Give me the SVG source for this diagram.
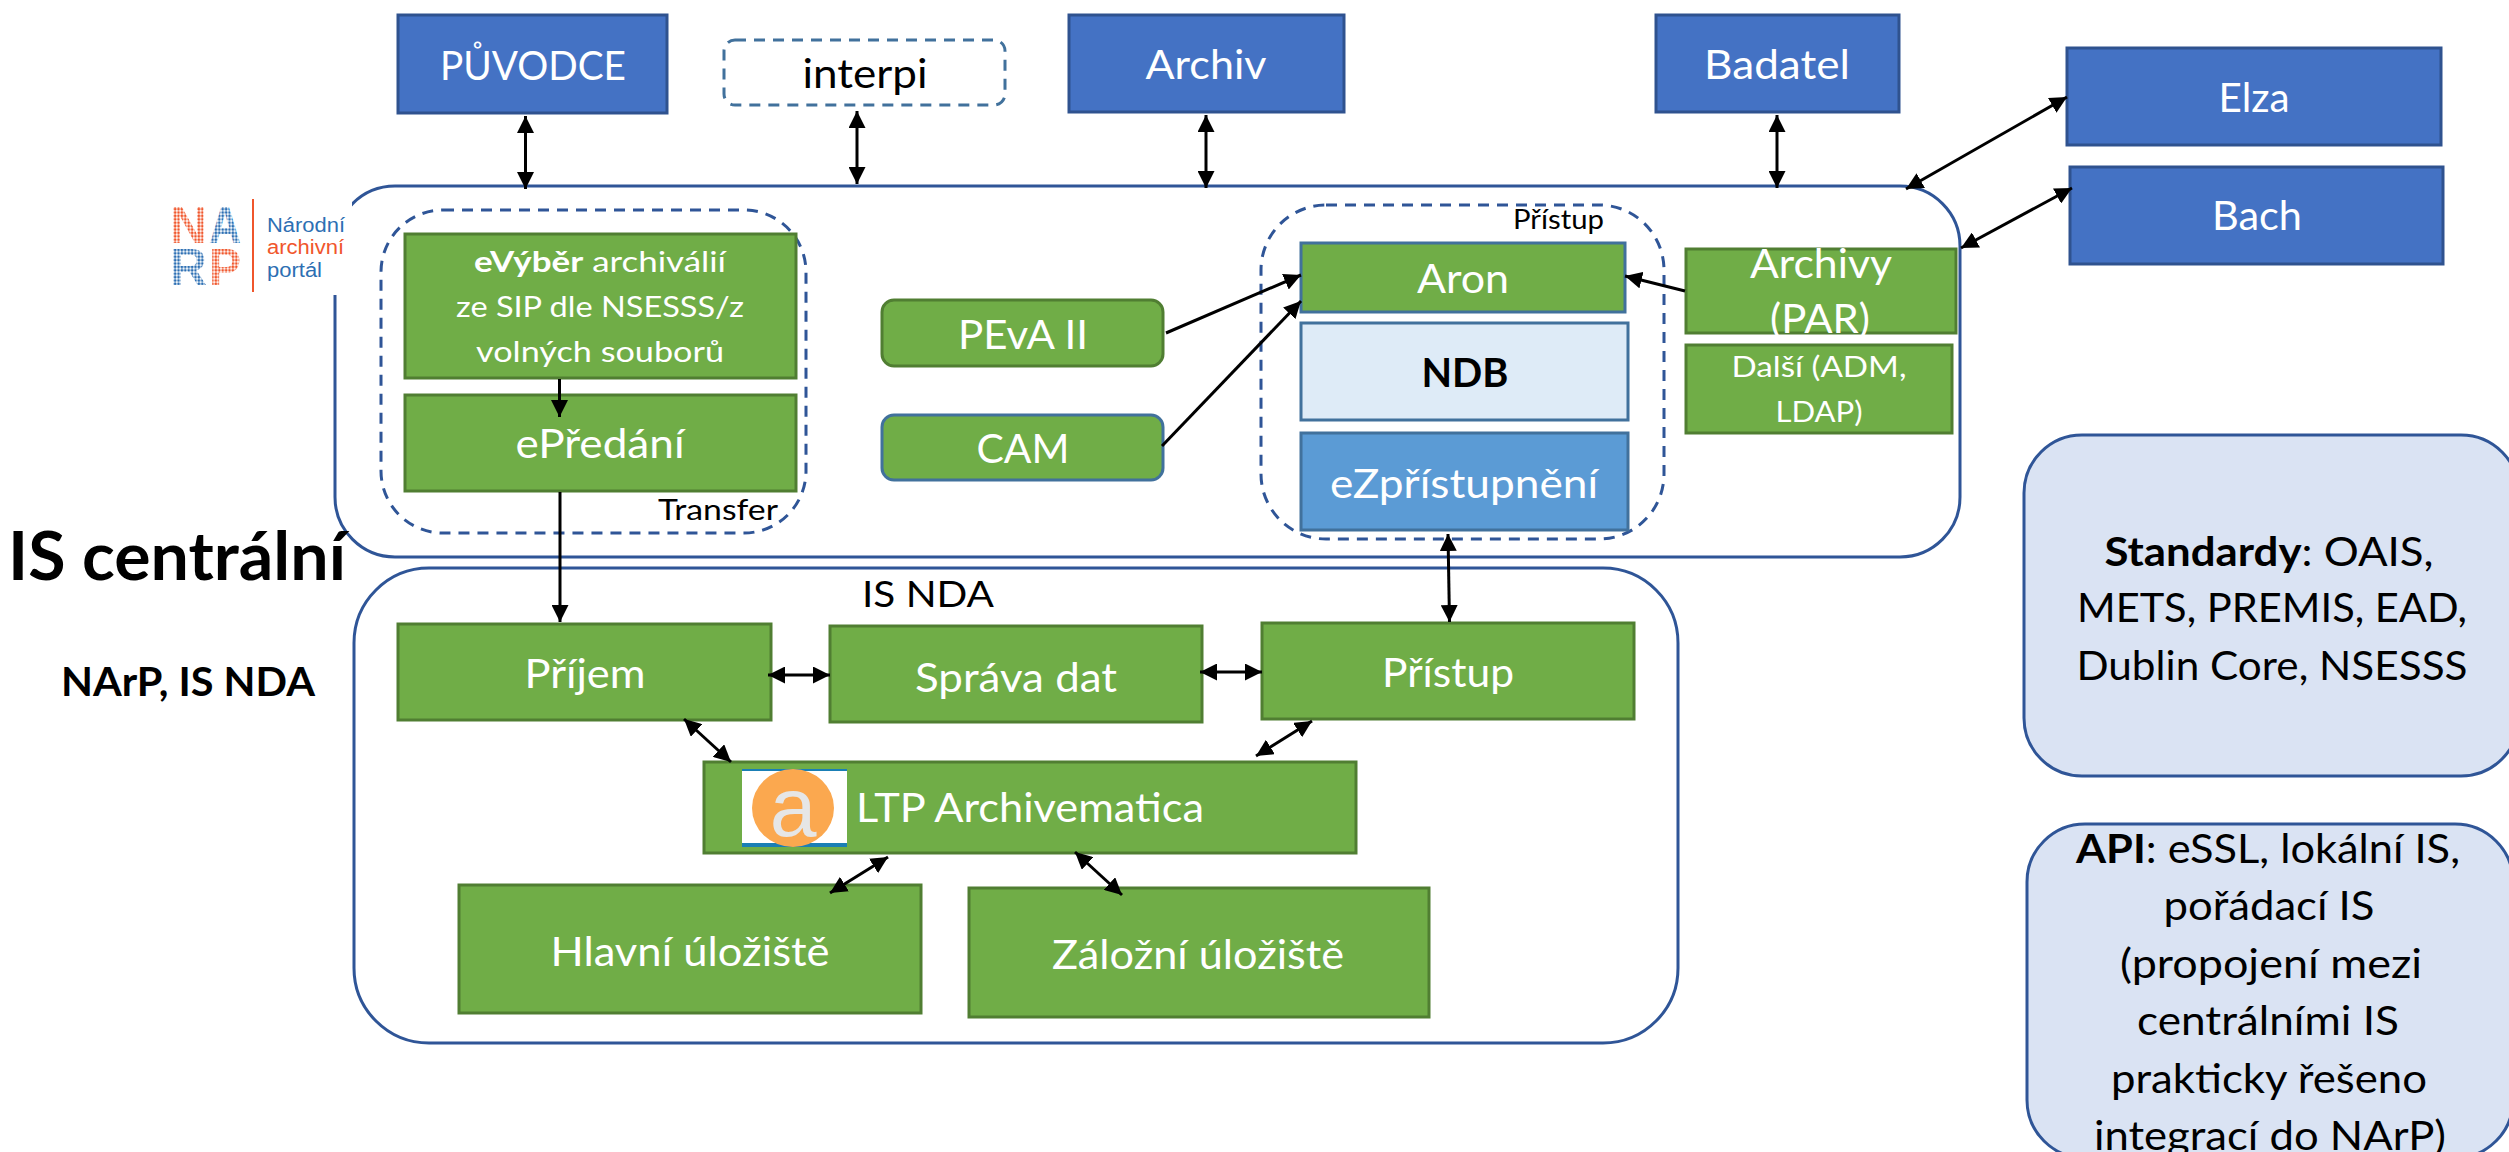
<svg xmlns="http://www.w3.org/2000/svg" width="2509" height="1152" viewBox="0 0 2509 1152">
<style>
text{font-family:Lato,"Noto Sans",sans-serif}
.m{text-anchor:middle}
.w{fill:#fff}
.k{fill:#000}
.b{font-weight:700}
.n{font-weight:400}
.f40{font-size:40px}
.f36{font-size:36px}
.f29{font-size:29px}
.f26{font-size:26px}
.green{fill:#70ad47;stroke:#507e32;stroke-width:3}
.greenb{fill:#70ad47;stroke:#41719c;stroke-width:3}
.blue{fill:#4472c4;stroke:#2f528f;stroke-width:3}
.outer{fill:none;stroke:#2f5597;stroke-width:3}
.dash{fill:none;stroke:#2f5597;stroke-width:3;stroke-dasharray:11 8}
.panel{fill:#dae3f3;stroke:#2f5597;stroke-width:3}
.c line{stroke:#000;stroke-width:3;fill:none}
.lg{font-family:"Liberation Sans",sans-serif;font-size:52px;font-weight:700}
.lt{font-family:"Liberation Sans",sans-serif;font-size:20px}
</style>
<defs>
<marker id="h" markerUnits="userSpaceOnUse" markerWidth="17" markerHeight="17" viewBox="0 0 17 17" refX="17" refY="8.5" orient="auto-start-reverse"><path d="M0 0L17 8.5L0 17Z" fill="#000"/></marker>
<pattern id="po" patternUnits="userSpaceOnUse" width="3.4" height="3.4"><circle cx="1.7" cy="1.7" r="1.4" fill="#f0562c"/></pattern>
<pattern id="pb" patternUnits="userSpaceOnUse" width="3.4" height="3.4"><circle cx="1.7" cy="1.7" r="1.4" fill="#2d6fb3"/></pattern>
</defs>
<rect width="2509" height="1152" fill="#fff"/>

<g id="is-centralni"><rect class="outer" x="335" y="186" width="1625" height="371" rx="60" ry="60"/></g>
<g id="narp-logo">
<rect x="160" y="192" width="192" height="103" fill="#fff"/>
<text class="lg" x="170" y="243" fill="url(#po)" textLength="37" lengthAdjust="spacingAndGlyphs">N</text>
<text class="lg" x="209" y="243" fill="url(#pb)" textLength="32" lengthAdjust="spacingAndGlyphs">A</text>
<text class="lg" x="170" y="285" fill="url(#pb)" textLength="37" lengthAdjust="spacingAndGlyphs">R</text>
<text class="lg" x="209" y="285" fill="url(#po)" textLength="32" lengthAdjust="spacingAndGlyphs">P</text>
<rect x="252" y="199" width="2" height="93" fill="#f0562c"/>
<text class="lt" x="267" y="232" fill="#2d6fb3" textLength="78" lengthAdjust="spacingAndGlyphs">Národní</text>
<text class="lt" x="267" y="254" fill="#f0562c" textLength="77" lengthAdjust="spacingAndGlyphs">archivní</text>
<text class="lt" x="267" y="277" fill="#2d6fb3" textLength="55" lengthAdjust="spacingAndGlyphs">portál</text>
</g>
<g id="is-nda"><rect class="outer" x="354" y="568" width="1324" height="475" rx="75" ry="75"/>
<text class="k f36" x="862" y="607" textLength="132" lengthAdjust="spacingAndGlyphs">IS NDA</text></g>

<g id="puvodce"><rect class="blue" x="398" y="15" width="269" height="98"/><text class="w f40 m" x="533" y="80" textLength="186" lengthAdjust="spacingAndGlyphs">PŮVODCE</text></g>
<g id="interpi"><rect x="724" y="40" width="281" height="65" rx="11" fill="#fff" stroke="#41719c" stroke-width="3" stroke-dasharray="11 8"/><text class="k f40 m" x="865" y="88" textLength="125" lengthAdjust="spacingAndGlyphs">interpi</text></g>
<g id="archiv"><rect class="blue" x="1069" y="15" width="275" height="97"/><text class="w f40 m" x="1206" y="79" textLength="121" lengthAdjust="spacingAndGlyphs">Archiv</text></g>
<g id="badatel"><rect class="blue" x="1656" y="15" width="243" height="97"/><text class="w f40 m" x="1777" y="79" textLength="146" lengthAdjust="spacingAndGlyphs">Badatel</text></g>
<g id="elza"><rect class="blue" x="2067" y="48" width="374" height="97"/><text class="w f40 m" x="2254" y="112" textLength="71" lengthAdjust="spacingAndGlyphs">Elza</text></g>
<g id="bach"><rect class="blue" x="2070" y="167" width="373" height="97"/><text class="w f40 m" x="2257" y="230" textLength="90" lengthAdjust="spacingAndGlyphs">Bach</text></g>

<g id="transfer"><rect class="dash" x="381" y="210" width="425" height="323" rx="62" ry="62"/><text class="k f29" x="658" y="520" textLength="120" lengthAdjust="spacingAndGlyphs">Transfer</text></g>
<g id="evyber"><rect class="green" x="405" y="234" width="391" height="144"/>
<text class="w f29 m" x="600" y="272" textLength="252" lengthAdjust="spacingAndGlyphs"><tspan class="b">eVýběr</tspan> archiválií</text>
<text class="w f29 m" x="600" y="317" textLength="288" lengthAdjust="spacingAndGlyphs">ze SIP dle NSESSS/z</text>
<text class="w f29 m" x="600" y="362" textLength="248" lengthAdjust="spacingAndGlyphs">volných souborů</text></g>
<g id="epredani"><rect class="green" x="405" y="395" width="391" height="96"/><text class="w f40 m" x="600" y="458" textLength="169" lengthAdjust="spacingAndGlyphs">ePředání</text></g>
<g id="peva"><rect class="green" x="882" y="300" width="281" height="66" rx="12"/><text class="w f40 m" x="1023" y="349" textLength="130" lengthAdjust="spacingAndGlyphs">PEvA II</text></g>
<g id="cam"><rect class="greenb" x="882" y="415" width="281" height="65" rx="12"/><text class="w f40 m" x="1023" y="463" textLength="93" lengthAdjust="spacingAndGlyphs">CAM</text></g>

<g id="pristup-group"><rect class="dash" x="1261" y="205" width="403" height="334" rx="65" ry="65"/><text class="k f26" x="1513" y="229" textLength="91" lengthAdjust="spacingAndGlyphs">Přístup</text></g>
<g id="aron"><rect class="greenb" x="1301" y="243" width="324" height="69"/><text class="w f40 m" x="1463" y="293" textLength="92" lengthAdjust="spacingAndGlyphs">Aron</text></g>
<g id="ndb"><rect x="1301" y="323" width="327" height="97" fill="#deebf7" stroke="#41719c" stroke-width="3"/><text class="k f40 b m" x="1465" y="387" textLength="87" lengthAdjust="spacingAndGlyphs">NDB</text></g>
<g id="ezpristupneni"><rect x="1301" y="433" width="327" height="97" fill="#5b9bd5" stroke="#41719c" stroke-width="3"/><text class="w f40 m" x="1464" y="498" textLength="268" lengthAdjust="spacingAndGlyphs">eZpřístupnění</text></g>
<g id="archivy"><rect class="green" x="1686" y="249" width="270" height="84"/>
<text class="w f40 m" x="1821" y="278" textLength="142" lengthAdjust="spacingAndGlyphs">Archivy</text>
<text class="w f40 m" x="1820" y="333" textLength="100" lengthAdjust="spacingAndGlyphs">(PAR)</text></g>
<g id="dalsi"><rect class="green" x="1686" y="345" width="266" height="88"/>
<text class="w f29 m" x="1819" y="377" textLength="175" lengthAdjust="spacingAndGlyphs">Další (ADM,</text>
<text class="w f29 m" x="1819" y="422" textLength="87" lengthAdjust="spacingAndGlyphs">LDAP)</text></g>

<g id="prijem"><rect class="green" x="398" y="624" width="373" height="96"/><text class="w f40 m" x="585" y="688" textLength="121" lengthAdjust="spacingAndGlyphs">Příjem</text></g>
<g id="sprava"><rect class="green" x="830" y="626" width="372" height="96"/><text class="w f40 m" x="1016" y="692" textLength="202" lengthAdjust="spacingAndGlyphs">Správa dat</text></g>
<g id="pristup"><rect class="green" x="1262" y="623" width="372" height="96"/><text class="w f40 m" x="1448" y="687" textLength="132" lengthAdjust="spacingAndGlyphs">Přístup</text></g>
<g id="ltp"><rect class="green" x="704" y="762" width="652" height="91"/>
<rect x="742" y="769" width="105" height="78" fill="#fff"/>
<rect x="742" y="769" width="105" height="2" fill="#1a7fb5"/><rect x="742" y="843" width="105" height="4" fill="#1a7fb5"/>
<ellipse cx="793" cy="808" rx="41" ry="39" fill="#fba84f"/>
<text x="793" y="836" text-anchor="middle" fill="#e6e6e6" style="font-family:'Liberation Sans',sans-serif;font-size:84px">a</text>
<text class="w f40" x="856" y="822" textLength="348" lengthAdjust="spacingAndGlyphs">LTP Archivematica</text></g>
<g id="hlavni"><rect class="green" x="459" y="885" width="462" height="128"/><text class="w f40 m" x="690" y="966" textLength="279" lengthAdjust="spacingAndGlyphs">Hlavní úložiště</text></g>
<g id="zalozni"><rect class="green" x="969" y="888" width="460" height="129"/><text class="w f40 m" x="1198" y="969" textLength="292" lengthAdjust="spacingAndGlyphs">Záložní úložiště</text></g>

<g id="standardy"><rect class="panel" x="2024" y="435" width="495" height="341" rx="58" ry="58"/>
<text class="k f40 m" x="2269" y="566" textLength="329" lengthAdjust="spacingAndGlyphs"><tspan class="b">Standardy</tspan>: OAIS,</text>
<text class="k f40 m" x="2272" y="622" textLength="390" lengthAdjust="spacingAndGlyphs">METS, PREMIS, EAD,</text>
<text class="k f40 m" x="2272" y="680" textLength="391" lengthAdjust="spacingAndGlyphs">Dublin Core, NSESSS</text></g>
<g id="api"><rect class="panel" x="2027" y="824" width="486" height="334" rx="58" ry="58"/>
<text class="k f40 m" x="2268" y="863" textLength="384" lengthAdjust="spacingAndGlyphs"><tspan class="b">API</tspan>: eSSL, lokální IS,</text>
<text class="k f40 m" x="2269" y="920" textLength="211" lengthAdjust="spacingAndGlyphs">pořádací IS</text>
<text class="k f40 m" x="2271" y="978" textLength="302" lengthAdjust="spacingAndGlyphs">(propojení mezi</text>
<text class="k f40 m" x="2268" y="1035" textLength="262" lengthAdjust="spacingAndGlyphs">centrálními IS</text>
<text class="k f40 m" x="2269" y="1093" textLength="316" lengthAdjust="spacingAndGlyphs">prakticky řešeno</text>
<text class="k f40 m" x="2270" y="1150" textLength="352" lengthAdjust="spacingAndGlyphs">integrací do NArP)</text></g>

<g id="title"><text class="k b" x="8" y="580" style="font-size:66px" textLength="338" lengthAdjust="spacingAndGlyphs">IS centrální</text>
<text class="k b" x="61" y="696" style="font-size:40px" textLength="254" lengthAdjust="spacingAndGlyphs">NArP, IS NDA</text></g>

<g id="connectors" class="c">
<line x1="525.5" y1="116" x2="525.5" y2="189" marker-start="url(#h)" marker-end="url(#h)"/>
<line x1="857" y1="111" x2="857" y2="184" marker-start="url(#h)" marker-end="url(#h)"/>
<line x1="1206" y1="115" x2="1206" y2="188" marker-start="url(#h)" marker-end="url(#h)"/>
<line x1="1777" y1="115" x2="1777" y2="188" marker-start="url(#h)" marker-end="url(#h)"/>
<line x1="1906" y1="189" x2="2067" y2="97" marker-start="url(#h)" marker-end="url(#h)"/>
<line x1="1961" y1="248" x2="2072" y2="188" marker-start="url(#h)" marker-end="url(#h)"/>
<line x1="559.5" y1="379" x2="559.5" y2="417" marker-end="url(#h)"/>
<line x1="560" y1="492" x2="560" y2="622" marker-end="url(#h)"/>
<line x1="1166" y1="333" x2="1301" y2="275" marker-end="url(#h)"/>
<line x1="1162" y1="446" x2="1301" y2="301" marker-end="url(#h)"/>
<line x1="1685" y1="291" x2="1625" y2="276" marker-end="url(#h)"/>
<line x1="1448" y1="534" x2="1449.5" y2="622" marker-start="url(#h)" marker-end="url(#h)"/>
<line x1="768" y1="675" x2="830" y2="675" marker-start="url(#h)" marker-end="url(#h)"/>
<line x1="1200" y1="672" x2="1262" y2="672" marker-start="url(#h)" marker-end="url(#h)"/>
<line x1="684" y1="719" x2="731" y2="762" marker-start="url(#h)" marker-end="url(#h)"/>
<line x1="1312" y1="721" x2="1256" y2="756" marker-start="url(#h)" marker-end="url(#h)"/>
<line x1="888" y1="857" x2="830" y2="893" marker-start="url(#h)" marker-end="url(#h)"/>
<line x1="1075" y1="852" x2="1122" y2="895" marker-start="url(#h)" marker-end="url(#h)"/>
</g>
</svg>
